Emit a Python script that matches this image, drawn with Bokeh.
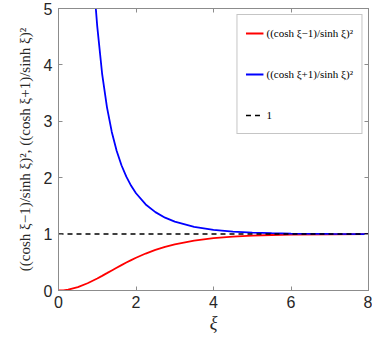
from bokeh.plotting import figure
from bokeh.models import Range1d, Legend, LegendItem, FixedTicker, LinearAxis
from bokeh.embed import file_html
from bokeh.resources import INLINE

# red curve: ((cosh ξ - 1)/sinh ξ)^2 sampled values
xi_red = [0, 0.125, 0.25, 0.5, 0.75, 1.0, 1.125, 1.25, 1.375, 1.5, 1.625, 1.75, 1.875,
          2.0, 2.25, 2.5, 2.75, 3.0, 3.5, 4.0, 4.5, 5.0, 5.5, 6.0, 7.0, 8.0]
y_red = [0.0, 0.0039, 0.0155, 0.0600, 0.1284, 0.2136, 0.2599, 0.3075, 0.3557, 0.4034,
         0.4502, 0.4956, 0.5389, 0.5800, 0.6553, 0.7196, 0.7747, 0.8193, 0.8862,
         0.9294, 0.9565, 0.9734, 0.9838, 0.9901, 0.9964, 0.9987]

# blue curve: ((cosh ξ + 1)/sinh ξ)^2 sampled values
xi_blue = [0.9, 0.95, 1.0, 1.125, 1.25, 1.375, 1.5, 1.625, 1.75, 1.875, 2.0, 2.25, 2.5,
           2.75, 3.0, 3.5, 4.0, 4.5, 5.0, 5.5, 6.0, 7.0, 8.0]
y_blue = [5.618, 5.113, 4.683, 3.847, 3.252, 2.812, 2.479, 2.221, 2.018, 1.856, 1.724,
          1.526, 1.390, 1.291, 1.221, 1.128, 1.076, 1.045, 1.027, 1.017, 1.010, 1.004, 1.001]

# reference line y = 1
xi_ref = [0, 8]
y_ref = [1, 1]

x_ticks = [0, 2, 4, 6, 8]
y_ticks = [0, 1, 2, 3, 4, 5]

label_red = "((cosh ξ−1)/sinh ξ)²"
label_blue = "((cosh ξ+1)/sinh ξ)²"
label_ref = "1"

AX = "#8c8c8c"
TXT = "#262626"

p = figure(width=372, height=338, output_backend="svg", toolbar_location=None,
           x_range=Range1d(0, 8), y_range=Range1d(0, 5),
           min_border_left=58, min_border_right=4, min_border_top=8, min_border_bottom=48)

p.grid.visible = False
p.outline_line_color = AX
p.outline_line_width = 1
p.background_fill_color = "white"
p.border_fill_color = "white"

r_red = p.line(xi_red, y_red, line_color="#ff0000", line_width=1.8)
r_blue = p.line(xi_blue, y_blue, line_color="#0000ff", line_width=1.8)
r_ref = p.line(xi_ref, y_ref, line_color="black", line_width=1.5, line_dash="5 4")

xa = p.below[0]
ya = p.left[0]

for ax in (xa, ya):
    ax.axis_line_color = AX
    ax.major_tick_line_color = AX
    ax.minor_tick_line_color = None
    ax.major_tick_in = 4
    ax.major_tick_out = 0
    ax.major_label_text_font = "Liberation Sans"
    ax.major_label_text_font_size = "16px"
    ax.major_label_text_color = TXT
    ax.axis_label_text_color = TXT

xa.ticker = FixedTicker(ticks=x_ticks)
ya.ticker = FixedTicker(ticks=y_ticks)
xa.major_label_standoff = 5
ya.major_label_standoff = 6

xa.axis_label = "ξ"
xa.axis_label_text_font = "Liberation Serif"
xa.axis_label_text_font_style = "italic"
xa.axis_label_text_font_size = "18px"
xa.axis_label_standoff = 2

ya.axis_label = label_red + ", " + label_blue
ya.axis_label_text_font = "Liberation Serif"
ya.axis_label_text_font_style = "normal"
ya.axis_label_text_font_size = "15px"
ya.axis_label_standoff = 8

# mirror axes (ticks only) on top and right, like a boxed frame
top_ax = LinearAxis(ticker=FixedTicker(ticks=x_ticks))
right_ax = LinearAxis(ticker=FixedTicker(ticks=y_ticks))
for ax in (top_ax, right_ax):
    ax.major_label_text_font_size = "0px"
    ax.major_label_standoff = 0
    ax.major_label_text_alpha = 0
    ax.axis_line_color = AX
    ax.major_tick_line_color = AX
    ax.minor_tick_line_color = None
    ax.major_tick_in = 4
    ax.major_tick_out = 0
p.add_layout(top_ax, "above")
p.add_layout(right_ax, "right")

legend = Legend(items=[
    LegendItem(label=label_red, renderers=[r_red]),
    LegendItem(label=label_blue, renderers=[r_blue]),
    LegendItem(label=label_ref, renderers=[r_ref]),
], location="top_right")
legend.border_line_color = AX
legend.border_line_width = 1
legend.background_fill_color = "white"
legend.background_fill_alpha = 1
legend.label_text_font = "Liberation Serif"
legend.label_text_font_size = "11px"
legend.label_text_color = "black"
legend.glyph_width = 18
legend.glyph_height = 20
legend.label_height = 20
legend.spacing = 21
legend.padding = 8
legend.margin = 6
legend.label_standoff = 3
p.add_layout(legend, "center")

open("out.html", "w").write(file_html(p, INLINE))
